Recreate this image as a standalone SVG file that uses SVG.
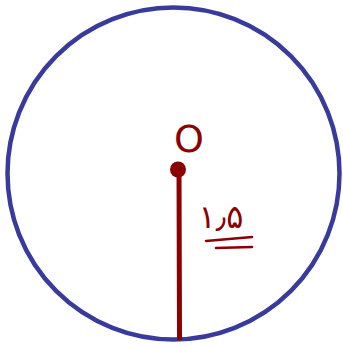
<svg xmlns="http://www.w3.org/2000/svg" width="343" height="347" viewBox="0 0 343 347">
<style>
.ink{stroke:#8b0000;stroke-linecap:round;fill:none}
.lbl{fill:#8b0000;font-family:"DejaVu Sans","Noto Sans",sans-serif}
</style>
<rect width="343" height="347" fill="#fff"/>
<g id="circle"><circle cx="173.5" cy="173.5" r="166" fill="none" stroke="#383b9c" stroke-width="4.5"/></g>
<g id="center">
<circle cx="178" cy="169.5" r="8" fill="#8b0000"/>
<text class="lbl" x="189" y="152" font-size="38" text-anchor="middle">O</text>
</g>
<g id="connectors">
<line class="ink" x1="179" y1="172" x2="179.5" y2="338" stroke-width="5"/>
</g>
<g id="label">
<text class="lbl" x="221" y="228" font-size="32" text-anchor="middle">۱٫۵</text>
<line class="ink" x1="206" y1="241" x2="252" y2="237" stroke-width="2.5"/>
<line class="ink" x1="216" y1="248" x2="252" y2="247" stroke-width="2.5"/>
</g>
</svg>
